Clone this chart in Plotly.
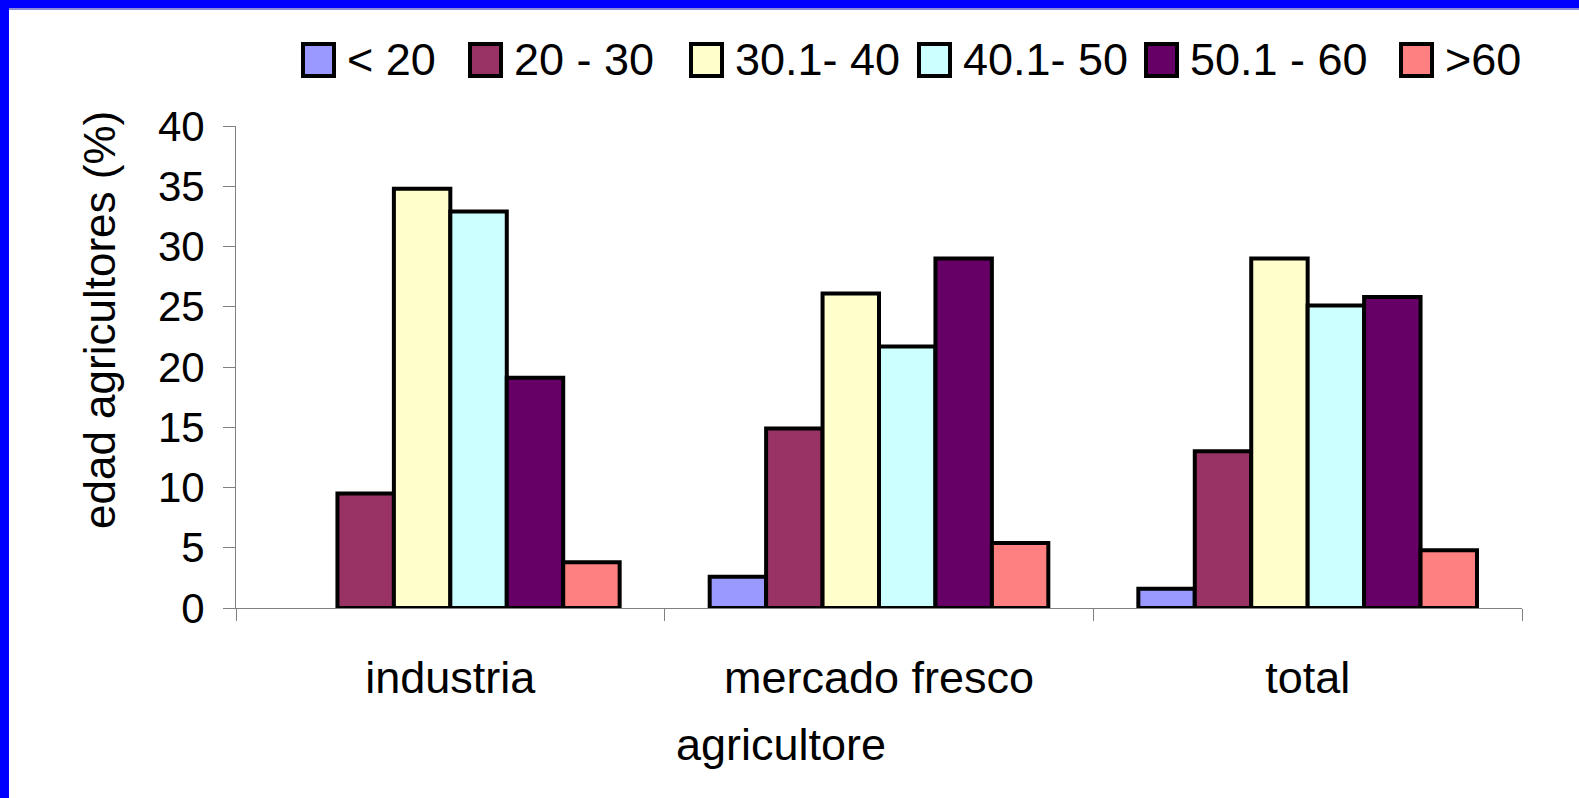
import plotly.graph_objects as go

categories = ["industria", "mercado fresco", "total"]
series_names = ["< 20", "20 - 30", "30.1- 40", "40.1- 50", "50.1 - 60", ">60"]
v_lt20 = [None, 2.6, 1.6]
v_20_30 = [9.5, 14.9, 13.0]
v_30_40 = [34.8, 26.1, 29.0]
v_40_50 = [32.9, 21.7, 25.1]
v_50_60 = [19.1, 29.0, 25.8]
v_gt60 = [3.8, 5.4, 4.8]
series_values = [v_lt20, v_20_30, v_30_40, v_40_50, v_50_60, v_gt60]
colors = ["#9999FF", "#993366", "#FFFFCC", "#CCFFFF", "#660066", "#FF8080"]
y_ticks = [0, 5, 10, 15, 20, 25, 30, 35, 40]

FONT = "Arial, Liberation Sans, sans-serif"

W, H = 1579, 798
L, R, T, B = 236, 57, 126, 190
pw, ph = W - L - R, H - T - B

def px_x(x):
    return (x - L) / pw

def px_y(y):
    return (H - B - y) / ph

# legend layout (pixel positions of each entry's swatch left edge)
swatch_left_px = [301, 468, 689, 917, 1144, 1399]
SW = 35
legend_ids = ["legend"] + [f"legend{i}" for i in range(2, 7)]

fig = go.Figure()
for name, vals, col in zip(series_names, series_values, colors):
    fig.add_trace(go.Bar(
        x=categories, y=vals, name=name, showlegend=False,
        marker=dict(color=col, line=dict(color="black", width=4)),
    ))
# legend entries (text via plotly legends; swatches drawn as larger boxes below)
for name, lid in zip(series_names, legend_ids):
    fig.add_trace(go.Scatter(
        x=[None], y=[None], name=name, mode="markers", legend=lid,
        marker=dict(symbol="square", size=1, color="rgba(0,0,0,0)",
                    line=dict(width=0)),
    ))

legend_layouts = {}
for lid, sx in zip(legend_ids, swatch_left_px):
    legend_layouts[lid] = dict(
        orientation="h", x=px_x(sx + SW + 12 - 41), y=px_y(22), xanchor="left", yanchor="top",
        font=dict(size=45), bgcolor="rgba(0,0,0,0)",
    )

swatches = []
for col, sx in zip(colors, swatch_left_px):
    swatches.append(dict(
        type="rect", xref="paper", yref="paper",
        x0=px_x(sx + 2), x1=px_x(sx + SW - 2), y0=px_y(76), y1=px_y(44),
        fillcolor=col, line=dict(color="black", width=4), layer="above",
    ))

fig.update_layout(
    width=W, height=H,
    margin=dict(l=L, r=R, t=T, b=B, pad=0),
    paper_bgcolor="white", plot_bgcolor="white",
    font=dict(family=FONT, size=44, color="black"),
    barmode="group", bargap=0.21, bargroupgap=0,
    showlegend=True,
    xaxis=dict(showline=True, linecolor="#808080", linewidth=1,
               ticks="outside", tickson="boundaries", ticklen=12, tickcolor="#808080",
               ticklabelstandoff=30, showgrid=False, zeroline=False,
               tickfont=dict(size=45)),
    yaxis=dict(range=[0, 40], tickvals=y_ticks, showline=True, linecolor="#808080",
               linewidth=1, ticks="outside", ticklen=12, tickcolor="#808080",
               showgrid=False, zeroline=False, ticklabelstandoff=10,
               tickfont=dict(size=42)),
    annotations=[
        dict(text="edad agricultores (%)", textangle=-90, x=px_x(99), y=px_y(320),
             xref="paper", yref="paper", showarrow=False, font=dict(size=44),
             xanchor="center", yanchor="middle"),
        dict(text="agricultore", x=px_x(781), y=px_y(745),
             xref="paper", yref="paper", showarrow=False, font=dict(size=45),
             xanchor="center", yanchor="middle"),
    ],
    shapes=[
        dict(type="rect", xref="paper", yref="paper", x0=px_x(0), x1=px_x(W), y0=px_y(10), y1=px_y(8),
             fillcolor="#8C8CD8", line=dict(width=0), layer="above"),
        dict(type="rect", xref="paper", yref="paper", x0=px_x(0), x1=px_x(W), y0=px_y(8), y1=px_y(0),
             fillcolor="#0000FF", line=dict(width=0), layer="above"),
        dict(type="rect", xref="paper", yref="paper", x0=px_x(0), x1=px_x(9), y0=px_y(H), y1=px_y(0),
             fillcolor="#0000FF", line=dict(width=0), layer="above"),
    ] + swatches,
    **legend_layouts,
)

fig.write_html("out.html", config={"displayModeBar": False},
               post_script="document.body.style.margin='0';document.body.style.overflow='hidden';")
